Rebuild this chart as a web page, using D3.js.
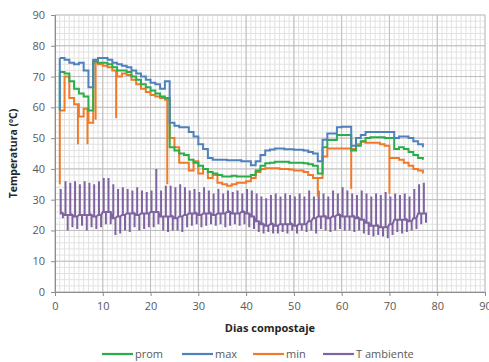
<!DOCTYPE html>
<html>
<head>
<meta charset="utf-8">
<script src="https://cdn.jsdelivr.net/npm/d3@7/dist/d3.min.js"></script>
<style>
  body { margin: 0; background: #fff; }
  text { font-family: "Open Sans", sans-serif; }
</style>
</head>
<body>
<div id="chart"></div>
<script>
var width = 489, height = 362;
var margin = {top: 15, right: 4, bottom: 70, left: 55};

// dias 1..77
var dias = d3.range(1, 78);

var maxT = [76, 75.5, 74.5, 74, 74.5, 72, 66.5, 75.5, 76, 76,
  75.5, 74.5, 74, 73.5, 73, 72, 71, 70, 69, 68,
  67.5, 66, 68.5, 55, 54, 53.5, 53.5, 52, 50.5, 48,
  46.5, 43.5, 43, 43, 43, 42.8, 42.8, 42.8, 42.5, 42.5,
  41.2, 42.5, 44.5, 46, 46.3, 46.6, 46.6, 46.4, 46.4, 46.2,
  46.2, 46, 45.5, 45, 42.5, 49.5, 51.5, 51.5, 53.5, 53.7,
  53.7, 47.5, 50, 51, 52, 52, 52, 52, 52, 52,
  50, 50.5, 50.5, 50, 49, 48, 47];

var prom = [71.5, 71, 68.5, 66, 64.5, 63.5, 59, 75, 74.5, 74.5,
  74, 73, 72, 72, 71.5, 70, 69, 67.5, 66.5, 65.5,
  64.5, 63.5, 63, 47, 46, 45, 44.5, 43, 42, 41,
  40, 39, 38.5, 38, 37.5, 37.5, 37.8, 37.5, 37.5, 37.5,
  38, 39.5, 41, 41.8, 42, 42.3, 42.3, 42.3, 42, 42,
  42, 41.8, 41.5, 41, 38.5, 47, 49.4, 49.4, 51, 51,
  51, 46, 47.5, 49, 50, 50.3, 50.3, 50.3, 50, 50,
  46.5, 47, 46.5, 45.5, 44.5, 43.5, 43];

var minT = [59, 70, 63, 61, 57, 59.5, 55, 74.5, 74, 73.5,
  73, 72, 70, 71, 70.5, 69, 67.5, 66, 65, 64,
  63.5, 63, 62.5, 50, 47, 42, 42, 39.5, 42.5, 38.5,
  40, 37, 38, 35.5, 35, 34.5, 35, 35.5, 35.5, 36,
  37, 39, 40, 40.2, 40.2, 40.2, 40, 40, 39.8, 39.5,
  39.5, 39, 38, 37, 37, 44, 46.6, 46.6, 46.6, 46.6,
  46.6, 46.5, 48, 48.8, 48.5, 48.5, 48.5, 48, 47.5, 43.5,
  43.5, 43, 42, 41, 40, 39.5, 38.5];

// caidas puntuales [dia, valor]
var maxCaidas = [[1, 59]];
var promCaidas = [[1, 59]];
var minCaidas = [[1, 35], [4.8, 48], [6.8, 48], [8.5, 56], [12.8, 56.5], [23.5, 35], [55, 31], [62, 33.5], [70, 32]];

var ambHigh = [33.5, 36, 35.5, 36, 35, 36, 35.5, 35, 36, 37,
  37, 35, 33.5, 34, 33.5, 33, 34, 33, 32.5, 33,
  40, 33, 34.5, 34.5, 34, 35, 34, 33, 33.5, 32.5,
  34, 33, 32, 33.5, 32, 33, 32.5, 33, 32, 33.5,
  33, 32, 31, 30.5, 31.5, 32, 31, 32, 31.5, 31,
  32, 31, 33, 31, 33, 32, 31, 33, 32, 34,
  33, 32, 31.5, 33, 32, 31, 32, 31.5, 32.5, 31,
  32, 31.5, 32, 31, 33.5, 35, 35.5];

var ambLow = [24, 20, 21, 20.5, 21.5, 20, 21, 20.5, 21, 22,
  22, 18.5, 19, 20, 19.5, 21, 20, 20.5, 21, 21,
  22, 20, 19.5, 20, 20, 19.5, 21, 21.5, 22, 21,
  21.5, 22, 21.5, 22, 21, 21.5, 22, 21.5, 22, 21,
  20.5, 19.5, 19, 19.5, 19, 19, 19.5, 19, 20, 19,
  20, 19.5, 20, 19, 20.5, 20, 19.5, 20, 20.5, 20,
  20, 19.5, 20, 19, 18.5, 18, 18.5, 18, 17.5, 18.5,
  19.5, 19, 19.5, 20, 20.5, 22, 22.5];

var ambMid = [25.5, 25, 25, 24.5, 25, 25, 25, 24.5, 25, 26,
  26, 24, 24.5, 25, 25.5, 25.5, 25, 25.5, 25.5, 26,
  26, 24.5, 24.5, 24.5, 24, 24.5, 25, 25.5, 25.5, 25,
  25.5, 25.5, 25, 25.5, 25.5, 26, 25.5, 25.5, 26, 25.5,
  24.5, 23, 22, 21.5, 22, 21.5, 22, 22, 22, 21.5,
  22, 22, 23, 24, 24.5, 24.5, 24, 24.5, 25, 24.5,
  24.5, 24.5, 24, 23.5, 22.5, 21.5, 21.5, 21, 21, 22,
  23.5, 23.5, 23.5, 23, 24, 25.5, 25.5];

var xTicks = [0, 10, 20, 30, 40, 50, 60, 70, 80, 90];
var yTicks = [0, 10, 20, 30, 40, 50, 60, 70, 80, 90];

var colors = {prom: '#2aae4a', max: '#4f81bd', min: '#f07a2a', amb: '#8064a2'};

var svg = d3.select('#chart').append('svg')
  .attr('width', width).attr('height', height);

var x = d3.scaleLinear().domain([0, 90]).range([margin.left, width - margin.right]);
var y = d3.scaleLinear().domain([0, 90]).range([height - margin.bottom, margin.top]);

// grid
var grid = svg.append('g');
grid.selectAll('.vminor').data(d3.range(0, 91, 1)).enter().append('line')
  .attr('x1', d => x(d)).attr('x2', d => x(d))
  .attr('y1', y(0)).attr('y2', y(90))
  .attr('stroke', '#e2e2e2').attr('stroke-width', 1);
grid.selectAll('.hminor').data(d3.range(0, 91, 2)).enter().append('line')
  .attr('x1', x(0)).attr('x2', x(90))
  .attr('y1', d => y(d)).attr('y2', d => y(d))
  .attr('stroke', '#e2e2e2').attr('stroke-width', 1);
grid.selectAll('.vmajor').data(xTicks).enter().append('line')
  .attr('x1', d => x(d)).attr('x2', d => x(d))
  .attr('y1', y(0)).attr('y2', y(90))
  .attr('stroke', '#bdbdbd').attr('stroke-width', 1);
grid.selectAll('.hmajor').data(yTicks).enter().append('line')
  .attr('x1', x(0)).attr('x2', x(90))
  .attr('y1', d => y(d)).attr('y2', d => y(d))
  .attr('stroke', '#bdbdbd').attr('stroke-width', 1);

// axes
var xAxis = svg.append('g').attr('transform', 'translate(0,' + y(0) + ')')
  .call(d3.axisBottom(x).tickValues(xTicks).tickSize(4).tickPadding(6));
var yAxis = svg.append('g').attr('transform', 'translate(' + x(0) + ',0)')
  .call(d3.axisLeft(y).tickValues(yTicks).tickSize(4).tickPadding(6));
[xAxis, yAxis].forEach(function(a) {
  a.select('.domain').attr('stroke', '#8c8c8c');
  a.selectAll('.tick line').attr('stroke', '#8c8c8c');
  a.selectAll('.tick text').attr('fill', '#595959').style('font-size', '11px')
    .style('font-family', '"Open Sans", sans-serif');
});

// ambient temperature: one rise and one fall per day
var ambPts = [];
dias.forEach(function(d, i) {
  ambPts.push([d, ambMid[i]], [d + 0.2, ambMid[i]], [d + 0.2, ambHigh[i]], [d + 0.2, ambMid[i]],
    [d + 0.65, ambMid[i]], [d + 0.65, ambLow[i]], [d + 0.65, ambMid[i]]);
});
svg.append('path').datum(ambPts)
  .attr('fill', 'none').attr('stroke', colors.amb).attr('stroke-width', 2)
  .attr('d', d3.line().x(d => x(d[0])).y(d => y(d[1])));

var stepLine = d3.line().curve(d3.curveStepAfter)
  .x(d => x(d[0])).y(d => y(d[1]));

function drawSeries(vals, caidas, color) {
  var pts = dias.map((d, i) => [d, vals[i]]);
  svg.append('path').datum(pts)
    .attr('fill', 'none').attr('stroke', color).attr('stroke-width', 2)
    .attr('d', stepLine);
  svg.append('g').selectAll('line').data(caidas).enter().append('line')
    .attr('x1', d => x(d[0])).attr('x2', d => x(d[0]))
    .attr('y1', d => y(vals[Math.floor(d[0]) - 1])).attr('y2', d => y(d[1]))
    .attr('stroke', color).attr('stroke-width', 2);
}
drawSeries(minT, minCaidas, colors.min);
drawSeries(prom, promCaidas, colors.prom);
drawSeries(maxT, maxCaidas, colors.max);

// titles
svg.append('text').attr('x', x(45)).attr('y', 332)
  .attr('text-anchor', 'middle').style('font-size', '11px').style('font-weight', 'bold')
  .attr('fill', '#262626').text('Dias compostaje');
svg.append('text').attr('transform', 'translate(17,' + y(45) + ') rotate(-90)')
  .attr('text-anchor', 'middle').style('font-size', '10.5px').style('font-weight', 'bold')
  .attr('fill', '#262626').text('Temperatura (ºC)');

// legend
var legend = [
  {label: 'prom', color: colors.prom, x: 102},
  {label: 'max', color: colors.max, x: 182},
  {label: 'min', color: colors.min, x: 253},
  {label: 'T ambiente', color: colors.amb, x: 323}
];
var lg = svg.append('g').selectAll('g').data(legend).enter().append('g')
  .attr('transform', d => 'translate(' + d.x + ',354)');
lg.append('line').attr('x1', 0).attr('x2', 31).attr('y1', 0).attr('y2', 0)
  .attr('stroke', d => d.color).attr('stroke-width', 2.2);
lg.append('text').attr('x', 33).attr('y', 4).style('font-size', '11px')
  .attr('fill', '#595959').text(d => d.label);
</script>
</body>
</html>
